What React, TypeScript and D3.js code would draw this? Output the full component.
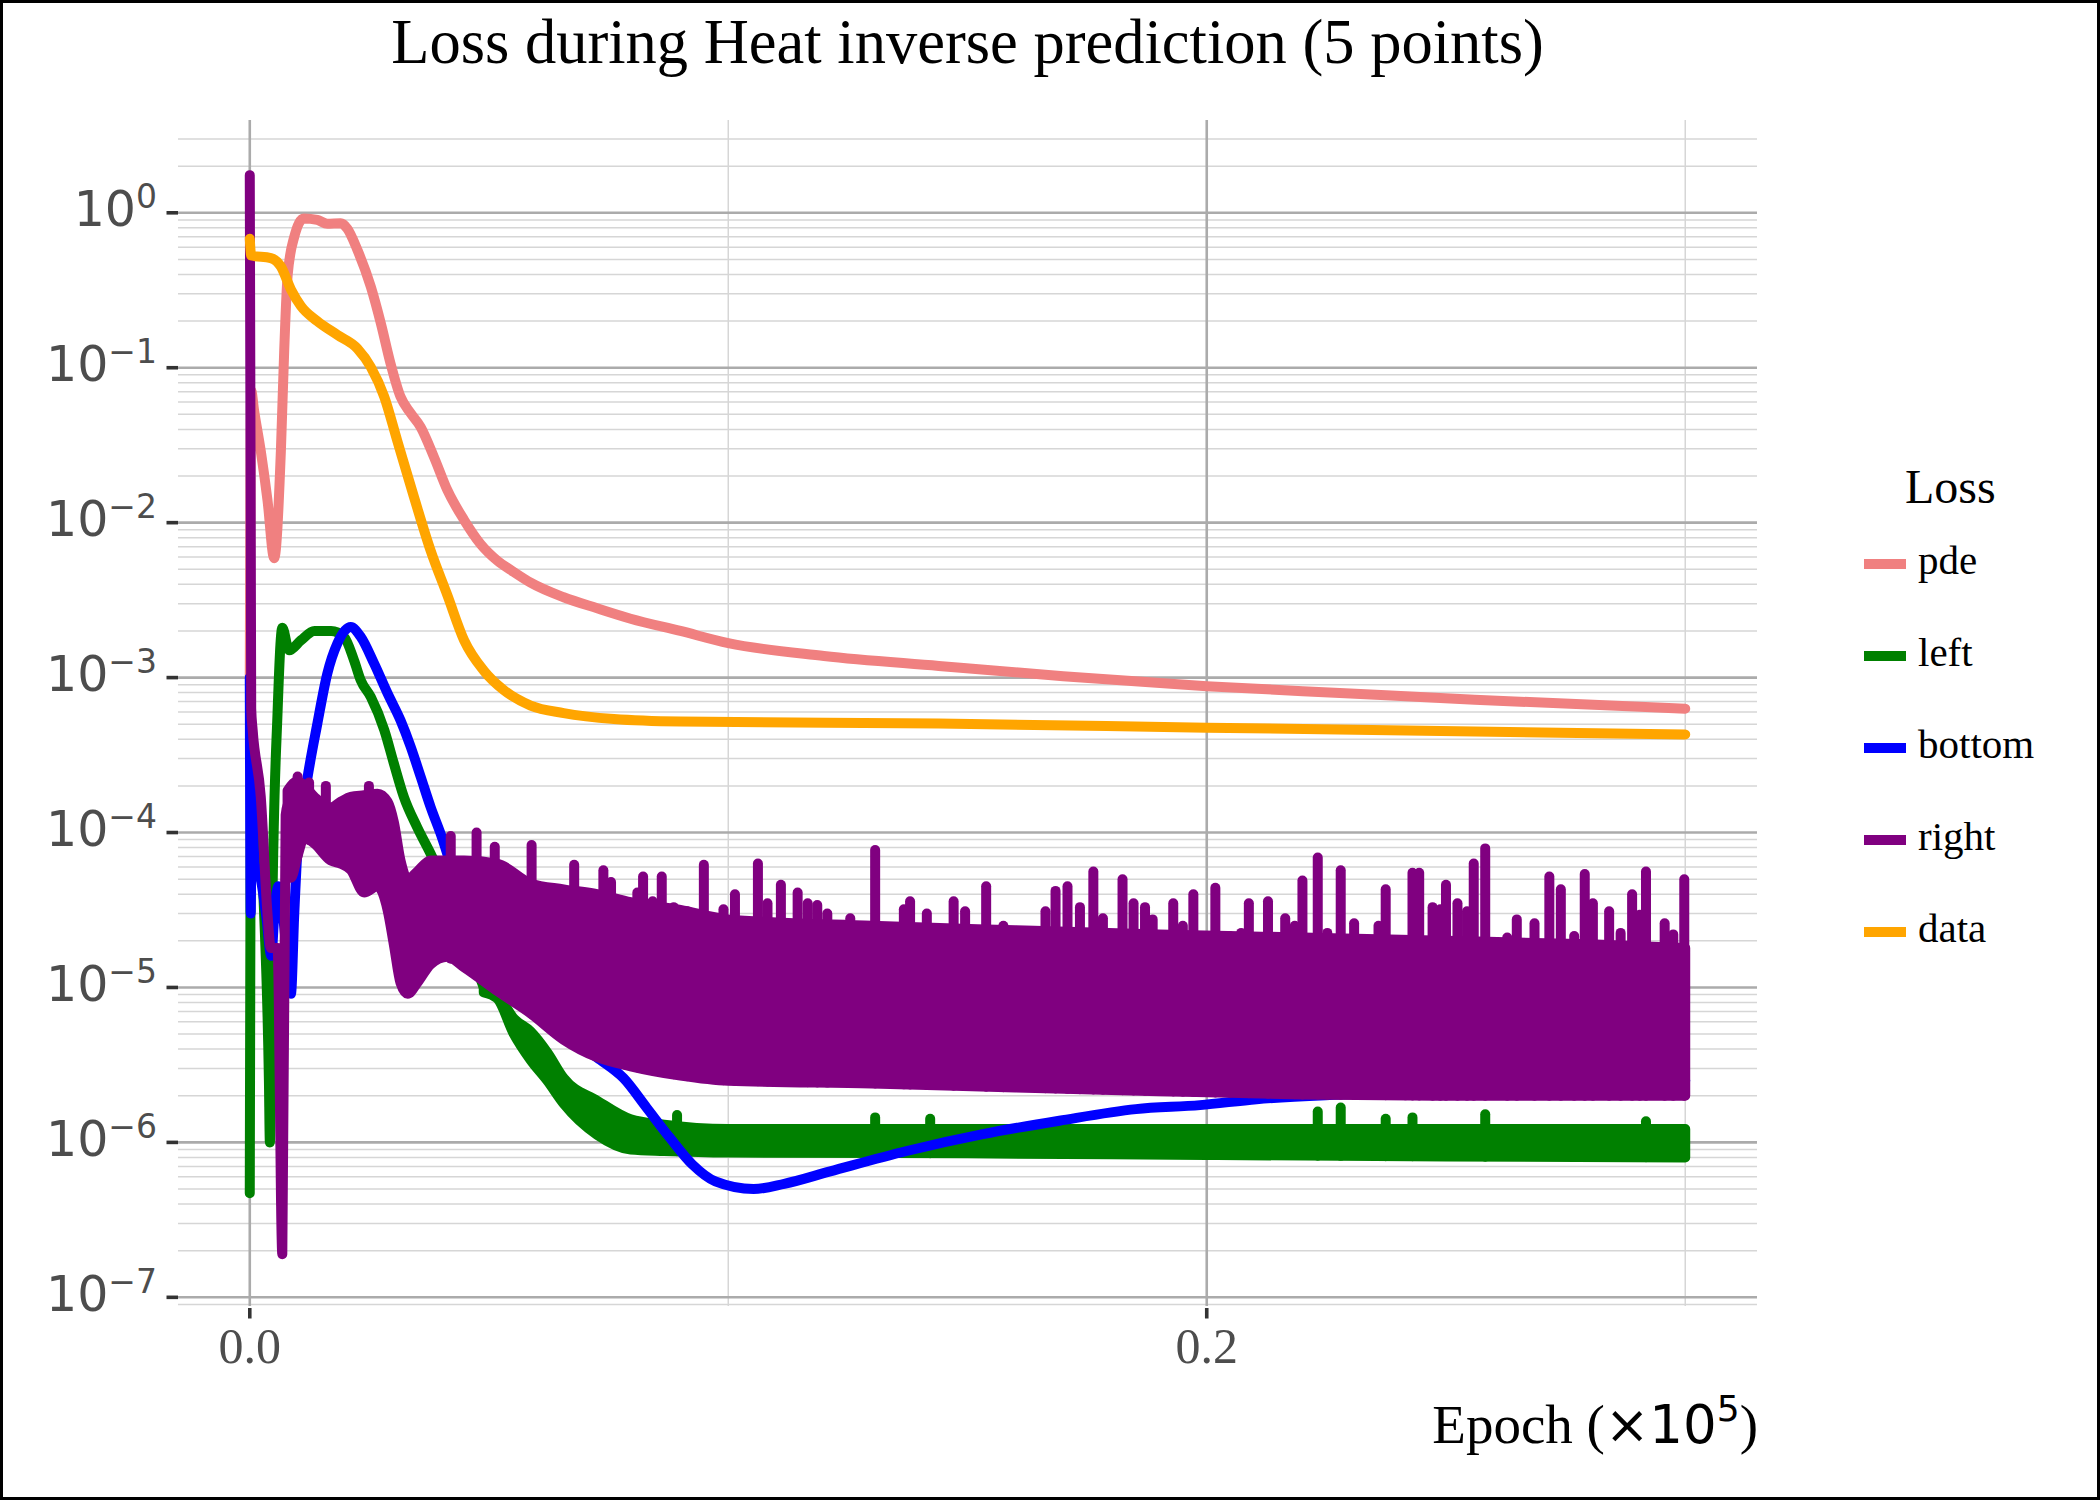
import React from 'react';
import * as d3 from 'd3';

// values (epoch in units of 1e5)
const pdeEpoch = [0, 0.0003, 0.0009, 0.0023, 0.0037, 0.0051, 0.0065, 0.0072, 0.0079, 0.0093, 0.0113, 0.0141, 0.0162, 0.019, 0.0204, 0.0225, 0.0253, 0.0274, 0.0294, 0.0315, 0.0336, 0.0357, 0.0385, 0.0413, 0.0448, 0.0482, 0.0517, 0.0552, 0.0587, 0.0656, 0.0726, 0.0796, 0.09, 0.1, 0.12, 0.144, 0.17, 0.2, 0.23, 0.256, 0.3];
const pdeLoss = [1.0e-3, 0.071, 0.053, 0.029, 0.014, 0.0059, 0.029, 0.13, 0.39, 0.7, 0.92, 0.9, 0.85, 0.855, 0.79, 0.575, 0.333, 0.193, 0.107, 0.065, 0.051, 0.0415, 0.0265, 0.0162, 0.0104, 0.0073, 0.0057, 0.0048, 0.0041, 0.0033, 0.0028, 0.0024, 0.002, 0.00167, 0.00138, 0.00119, 0.00102, 0.00088, 0.00079, 0.00072, 0.00063];

const dataEpoch = [0, 0.0003, 0.0044, 0.0065, 0.0086, 0.0107, 0.0141, 0.0183, 0.0225, 0.0253, 0.0281, 0.0308, 0.0343, 0.0378, 0.0413, 0.0448, 0.0489, 0.0531, 0.0587, 0.0656, 0.0761, 0.09, 0.144, 0.2, 0.3];
const dataLoss = [0.68, 0.53, 0.51, 0.45, 0.32, 0.25, 0.2, 0.163, 0.133, 0.101, 0.065, 0.034, 0.0147, 0.0066, 0.0034, 0.00174, 0.00111, 0.00083, 0.00066, 0.00059, 0.00054, 0.00052, 0.000505, 0.000475, 0.00043];

const bottomEpoch = [0, 0.0002, 0.0004, 0.001, 0.0023, 0.0035, 0.0045, 0.0052, 0.006, 0.0075, 0.0086, 0.0093, 0.01, 0.012, 0.0141, 0.0162, 0.0183, 0.0211, 0.0232, 0.026, 0.0288, 0.0315, 0.0336, 0.0357, 0.0378, 0.0399, 0.045, 0.05, 0.055, 0.06, 0.065, 0.07, 0.0733, 0.0781, 0.0829, 0.0877, 0.0925, 0.0973, 0.1053, 0.1117, 0.1213, 0.1373, 0.1532, 0.1692, 0.1852, 0.1986, 0.2104, 0.2304, 0.26, 0.3];
const bottomLoss = [1.0e-3, 3.0e-5, 2.0e-4, 6.3e-5, 5.0e-5, 2.8e-5, 1.6e-5, 3.2e-5, 4.5e-5, 2.0e-5, 9.1e-6, 3.0e-5, 8.0e-5, 2.2e-4, 5.0e-4, 1.06e-3, 1.66e-3, 2.12e-3, 1.83e-3, 1.23e-3, 7.9e-4, 5.3e-4, 3.6e-4, 2.3e-4, 1.46e-4, 9.8e-5, 3.2e-5, 1.6e-5, 1.0e-5, 7.1e-6, 5.2e-6, 4.0e-6, 3.4e-6, 2.6e-6, 1.68e-6, 1.08e-6, 7.2e-7, 5.6e-7, 5.0e-7, 5.4e-7, 6.5e-7, 8.8e-7, 1.13e-6, 1.38e-6, 1.64e-6, 1.74e-6, 1.9e-6, 2.05e-6, 2.24e-6, 2.5e-6];

const leftEpoch = [0, 0.0003, 0.0009, 0.003, 0.004, 0.0042, 0.0047, 0.0058, 0.0068, 0.0082, 0.0107, 0.0135, 0.017, 0.0197, 0.0218, 0.0232, 0.0253, 0.0281, 0.0301, 0.0322, 0.035, 0.0378, 0.042, 0.0455, 0.0489];
const leftLoss = [4.7e-7, 2.8e-4, 2.2e-4, 3.0e-5, 2.5e-6, 1.0e-6, 3.0e-5, 5.9e-4, 2.1e-3, 1.5e-3, 1.74e-3, 2.0e-3, 2.0e-3, 1.83e-3, 1.29e-3, 9.6e-4, 7.5e-4, 4.6e-4, 2.8e-4, 1.7e-4, 1.08e-4, 7.3e-5, 3.8e-5, 1.9e-5, 1.0e-5];
// noisy part of "left": envelope of the oscillation
const leftBandEpoch = [0.0489, 0.0517, 0.0552, 0.0587, 0.0622, 0.0656, 0.0726, 0.0796, 0.0866, 0.1, 0.15, 0.2, 0.25, 0.3];
const leftBandHigh = [1.02e-5, 9.1e-6, 6.3e-6, 5.2e-6, 3.8e-6, 2.6e-6, 1.86e-6, 1.41e-6, 1.3e-6, 1.22e-6, 1.22e-6, 1.22e-6, 1.22e-6, 1.22e-6];
const leftBandLow = [9.3e-6, 8.5e-6, 5.0e-6, 3.4e-6, 2.5e-6, 1.78e-6, 1.12e-6, 9.0e-7, 8.8e-7, 8.6e-7, 8.5e-7, 8.3e-7, 8.1e-7, 8.0e-7];
const leftSpikeEpoch = [0.0893, 0.1307, 0.1422, 0.2232, 0.228, 0.2374, 0.243, 0.2582, 0.2918];
const leftSpikeLoss = [1.5e-6, 1.45e-6, 1.42e-6, 1.58e-6, 1.68e-6, 1.42e-6, 1.45e-6, 1.52e-6, 1.37e-6];

const rightEpoch = [0, 0.0003, 0.0006, 0.0023, 0.0037, 0.0044, 0.0058, 0.0068, 0.0075, 0.0079];
const rightLoss = [1.75, 6.3e-4, 4.6e-4, 1.7e-4, 3.0e-5, 1.8e-5, 1.8e-5, 1.9e-7, 1.3e-4, 1.5e-4];
const rightBandEpoch = [0.0079, 0.0086, 0.01, 0.0114, 0.0135, 0.0169, 0.019, 0.0211, 0.0239, 0.0267, 0.0288, 0.0301, 0.0315, 0.033, 0.035, 0.0378, 0.0413, 0.0448, 0.0517, 0.0587, 0.0656, 0.0726, 0.0796, 0.09, 0.1, 0.13, 0.16, 0.19, 0.22, 0.25, 0.28, 0.3];
const rightBandHigh = [1.86e-4, 2.0e-4, 2.14e-4, 2.0e-4, 1.7e-4, 1.45e-4, 1.58e-4, 1.7e-4, 1.74e-4, 1.78e-4, 1.58e-4, 1.17e-4, 6.6e-5, 5.0e-5, 5.6e-5, 6.6e-5, 6.6e-5, 6.6e-5, 6.3e-5, 4.7e-5, 4.3e-5, 4.0e-5, 3.55e-5, 3.16e-5, 2.75e-5, 2.5e-5, 2.34e-5, 2.2e-5, 2.1e-5, 2.0e-5, 1.9e-5, 1.8e-5];
const rightBandLow = [1.26e-4, 5.1e-5, 7.1e-5, 9.3e-5, 8.5e-5, 6.6e-5, 6.3e-5, 5.75e-5, 4.1e-5, 4.5e-5, 3.16e-5, 1.9e-5, 1.07e-5, 9.1e-6, 1.07e-5, 1.41e-5, 1.58e-5, 1.35e-5, 9.5e-6, 6.8e-6, 4.6e-6, 3.55e-6, 3.1e-6, 2.7e-6, 2.5e-6, 2.4e-6, 2.26e-6, 2.14e-6, 2.04e-6, 2.0e-6, 2.0e-6, 2.0e-6];
// tall spikes above the "right" band
const rightSpikeEpoch = [0.01, 0.0124, 0.0159, 0.0249, 0.042, 0.0474, 0.0512, 0.0589, 0.0678, 0.0739, 0.0822, 0.0861, 0.0949, 0.1062, 0.111, 0.1145, 0.1307, 0.138, 0.1539, 0.1684, 0.1709, 0.1763, 0.1824, 0.193, 0.1972, 0.2018, 0.2088, 0.2128, 0.22, 0.2232, 0.228, 0.2374, 0.243, 0.2444, 0.25, 0.2558, 0.2582, 0.2716, 0.274, 0.279, 0.2807, 0.2889, 0.2918, 0.2998];
const rightSpikeLoss = [2.3e-4, 2.1e-4, 2.0e-4, 2.0e-4, 9.5e-5, 1.0e-4, 8.1e-5, 8.3e-5, 6.2e-5, 5.7e-5, 5.2e-5, 5.2e-5, 6.2e-5, 6.3e-5, 4.6e-5, 4.1e-5, 7.7e-5, 3.6e-5, 4.5e-5, 4.2e-5, 4.5e-5, 5.6e-5, 5.0e-5, 3.5e-5, 4.0e-5, 4.4e-5, 3.5e-5, 3.6e-5, 4.9e-5, 6.9e-5, 5.7e-5, 4.3e-5, 5.5e-5, 5.5e-5, 4.6e-5, 6.3e-5, 7.9e-5, 5.2e-5, 4.3e-5, 5.4e-5, 3.5e-5, 4.0e-5, 5.6e-5, 5.0e-5];
// shorter spikes that make the band's top ragged
const rightBumpEpoch = [0.0755, 0.0786, 0.081, 0.0842, 0.0886, 0.0914, 0.099, 0.1014, 0.1082, 0.1166, 0.1186, 0.1207, 0.1255, 0.1367, 0.1415, 0.1471, 0.1495, 0.1575, 0.1663, 0.1735, 0.1783, 0.1847, 0.1871, 0.1887, 0.195, 0.2048, 0.2072, 0.2164, 0.2184, 0.2252, 0.2308, 0.2359, 0.2415, 0.2472, 0.2488, 0.2524, 0.2544, 0.2628, 0.2648, 0.2685, 0.2768, 0.2841, 0.2865, 0.2905, 0.2957, 0.2975];
const rightBumpLoss = [4.8e-5, 3.5e-5, 4.1e-5, 3.6e-5, 3.3e-5, 3.1e-5, 3.2e-5, 4.0e-5, 3.5e-5, 3.5e-5, 3.4e-5, 3.0e-5, 2.8e-5, 3.2e-5, 3.0e-5, 3.6e-5, 3.1e-5, 2.5e-5, 3.1e-5, 3.3e-5, 2.8e-5, 3.5e-5, 3.3e-5, 2.75e-5, 2.5e-5, 2.15e-5, 2.25e-5, 2.8e-5, 2.5e-5, 2.25e-5, 2.6e-5, 2.5e-5, 1.9e-5, 3.3e-5, 3.2e-5, 3.5e-5, 3.1e-5, 2.1e-5, 2.75e-5, 2.6e-5, 2.15e-5, 3.1e-5, 2.25e-5, 2.95e-5, 2.6e-5, 2.2e-5];

const legendNames = ['pde', 'left', 'bottom', 'right', 'data'];
const legendColors = ['#F08080', '#008000', '#0000FF', '#800080', '#FFA500'];
const yExponents = [0, -1, -2, -3, -4, -5, -6, -7];
const xTicks = [0, 0.2];
const xMinorTicks = [0.1, 0.3];

const W = 2100;
const H = 1500;
const plot = { left: 178, right: 1757, top: 120, bottom: 1306 };
const LW = 10;

const serif = "'Liberation Serif', 'Times New Roman', serif";
const sans = "'DejaVu Sans', sans-serif";

export default function App() {
  const x = d3.scaleLinear().domain([-0.015, 0.315]).range([plot.left, plot.right]);
  const y = d3.scaleLog().domain([Math.pow(10, -7.056), Math.pow(10, 0.599)]).range([plot.bottom, plot.top]);

  const line = (ex: number[], vals: number[]) =>
    d3.line<number>().curve(d3.curveMonotoneX).x((_, i) => x(ex[i])).y((v) => y(v))(vals) || '';
  const band = (ex: number[], lo: number[], hi: number[]) =>
    d3.area<number>().curve(d3.curveMonotoneX).x((_, i) => x(ex[i])).y0((_, i) => y(lo[i])).y1((_, i) => y(hi[i]))(ex) || '';

  // minor log gridlines 2..9 in every decade
  const minorY: number[] = [];
  for (let d = -8; d <= 0; d++) {
    for (let k = 2; k <= 9; k++) {
      const v = k * Math.pow(10, d);
      if (y(v) >= plot.top && y(v) <= plot.bottom) minorY.push(v);
    }
  }

  const leftLowAt = d3.scaleLinear().domain(leftBandEpoch).range(leftBandLow).clamp(true);
  const rightLowAt = d3.scaleLinear().domain(rightBandEpoch).range(rightBandLow).clamp(true);

  const stroke = (c: string) => ({ stroke: c, strokeWidth: LW, strokeLinecap: 'round' as const, strokeLinejoin: 'round' as const });

  return (
    <>
      <style>{'body{margin:0}'}</style>
      <svg width={W} height={H} style={{ display: 'block' }} xmlns="http://www.w3.org/2000/svg">
        <rect x={0} y={0} width={W} height={H} fill="#fff" />

        {/* grid */}
        {minorY.map((v) => (
          <line key={'my' + v} x1={plot.left} x2={plot.right} y1={y(v)} y2={y(v)} stroke="#d6d6d6" strokeWidth={1.5} />
        ))}
        {xMinorTicks.map((v) => (
          <line key={'mx' + v} x1={x(v)} x2={x(v)} y1={plot.top} y2={plot.bottom} stroke="#d6d6d6" strokeWidth={1.5} />
        ))}
        {yExponents.map((e) => (
          <line key={'gy' + e} x1={plot.left} x2={plot.right} y1={y(Math.pow(10, e))} y2={y(Math.pow(10, e))} stroke="#ababab" strokeWidth={2.6} />
        ))}
        {xTicks.map((v) => (
          <line key={'gx' + v} x1={x(v)} x2={x(v)} y1={plot.top} y2={plot.bottom} stroke="#ababab" strokeWidth={2.6} />
        ))}

        {/* pde */}
        <path d={line(pdeEpoch, pdeLoss)} fill="none" {...stroke(legendColors[0])} />

        {/* left */}
        <path d={line(leftEpoch, leftLoss)} fill="none" {...stroke(legendColors[1])} />
        <path d={band(leftBandEpoch, leftBandLow, leftBandHigh)} fill={legendColors[1]} {...stroke(legendColors[1])} />
        {leftSpikeEpoch.map((e, i) => (
          <line key={'ls' + i} x1={x(e)} x2={x(e)} y1={y(leftLowAt(e))} y2={y(leftSpikeLoss[i])} {...stroke(legendColors[1])} />
        ))}

        {/* bottom */}
        <path d={line(bottomEpoch, bottomLoss)} fill="none" {...stroke(legendColors[2])} />

        {/* right */}
        <path d={line(rightEpoch, rightLoss)} fill="none" {...stroke(legendColors[3])} />
        <path d={band(rightBandEpoch, rightBandLow, rightBandHigh)} fill={legendColors[3]} {...stroke(legendColors[3])} />
        {rightSpikeEpoch.map((e, i) => (
          <line key={'rs' + i} x1={x(e)} x2={x(e)} y1={y(rightLowAt(e))} y2={y(rightSpikeLoss[i])} {...stroke(legendColors[3])} />
        ))}
        {rightBumpEpoch.map((e, i) => (
          <line key={'rb' + i} x1={x(e)} x2={x(e)} y1={y(rightLowAt(e))} y2={y(rightBumpLoss[i])} {...stroke(legendColors[3])} />
        ))}

        {/* data */}
        <path d={line(dataEpoch, dataLoss)} fill="none" {...stroke(legendColors[4])} />

        {/* y axis */}
        {yExponents.map((e) => {
          const gy = y(Math.pow(10, e));
          return (
            <g key={'yt' + e}>
              <line x1={166.5} x2={178} y1={gy} y2={gy} stroke="#333" strokeWidth={3.6} />
              <text x={157} y={gy + 13.3} textAnchor="end" fontFamily={sans} fontSize={49} fill="#4d4d4d">
                10
                <tspan dy={-17.7} fontSize={33}>{e === 0 ? '0' : '\u2212' + Math.abs(e)}</tspan>
              </text>
            </g>
          );
        })}

        {/* x axis */}
        {xTicks.map((v) => (
          <g key={'xt' + v}>
            <line x1={x(v)} x2={x(v)} y1={1308} y2={1318.5} stroke="#333" strokeWidth={3.6} />
            <text x={x(v)} y={1363} textAnchor="middle" fontFamily={serif} fontSize={50} fill="#4d4d4d">
              {d3.format('.1f')(v)}
            </text>
          </g>
        ))}

        <text x={1758} y={1443} textAnchor="end" fill="#000">
          <tspan fontFamily={serif} fontSize={55}>Epoch (</tspan>
          <tspan fontFamily={sans} fontSize={53}>×10</tspan>
          <tspan fontFamily={sans} fontSize={36} dy={-22}>5</tspan>
          <tspan fontFamily={serif} fontSize={55} dy={22}>)</tspan>
        </text>

        {/* title */}
        <text x={(plot.left + plot.right) / 2} y={63} textAnchor="middle" fontFamily={serif} fontSize={62.5} fill="#000">
          Loss during Heat inverse prediction (5 points)
        </text>

        {/* legend */}
        <text x={1905} y={503} fontFamily={serif} fontSize={48} fill="#000">Loss</text>
        {legendNames.map((n, i) => {
          const ly = 564 + i * 92;
          return (
            <g key={n}>
              <line x1={1864} x2={1906} y1={ly} y2={ly} stroke={legendColors[i]} strokeWidth={10} />
              <text x={1918} y={ly + 9.5} fontFamily={serif} fontSize={41} fill="#000">{n}</text>
            </g>
          );
        })}

        <rect x={1.5} y={1.5} width={W - 3} height={H - 3} fill="none" stroke="#000" strokeWidth={3} />
      </svg>
    </>
  );
}
